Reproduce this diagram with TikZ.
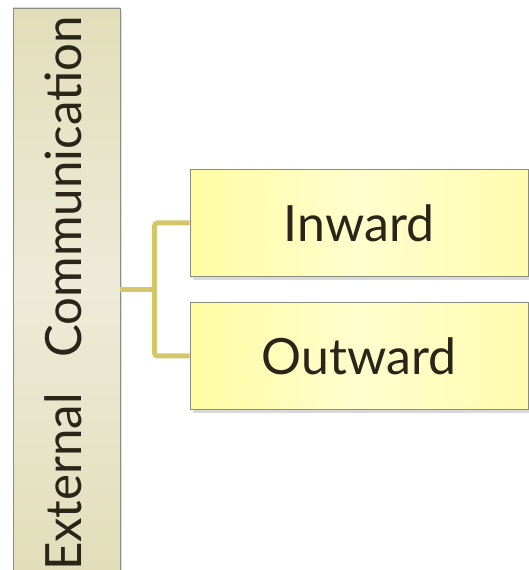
\documentclass[tikz,border=0pt]{standalone}
\usepackage{fontspec}
\setmainfont{Lato}
\usetikzlibrary{shadows}
\definecolor{txt}{RGB}{43,37,25}
\definecolor{leftA}{RGB}{226,222,186}
\definecolor{leftB}{RGB}{237,234,216}
\definecolor{boxA}{RGB}{255,252,162}
\definecolor{boxB}{RGB}{255,254,205}
\definecolor{boxC}{RGB}{255,252,175}
\definecolor{brd}{RGB}{140,140,128}
\definecolor{conn}{RGB}{211,199,106}
\tikzset{
  sidebox/.style={draw=brd, line width=0.9pt, top color=leftA, bottom color=leftA, middle color=leftB,
    minimum width=107pt, minimum height=564pt, inner sep=0pt,
    drop shadow={opacity=0.25, shadow xshift=2pt, shadow yshift=-2pt}},
  itembox/.style={draw=brd, line width=0.9pt, left color=boxA, right color=boxC, middle color=boxB,
    minimum width=338pt, minimum height=107pt, inner sep=0pt, text=txt,
    font=\fontsize{50}{60}\selectfont,
    drop shadow={opacity=0.3, shadow xshift=3pt, shadow yshift=-4pt}},
  connline/.style={draw=conn, line width=5pt, rounded corners=3pt},
}
\begin{document}
\begin{tikzpicture}[x=1pt,y=1pt]
\useasboundingbox (0,0) rectangle (529,570);
\clip (0,0) rectangle (529,570);
\node[sidebox] (L) at (66.5,280) {};
\node[rotate=90, text=txt, font=\fontsize{50}{60}\selectfont, inner sep=0pt] (Lt) at (63,276.5) {\scalebox{0.985}[1]{External\hspace{36pt}Communication}};
\node[itembox] (I) at (359,347) {Inward};
\node[itembox] (O) at (359,214) {Outward};
\coordinate (j) at ([xshift=34pt]L.east);
\draw[connline] (I.west) -| (j) |- (O.west);
\draw[connline] (L.east) -- (j);
\end{tikzpicture}
\end{document}
